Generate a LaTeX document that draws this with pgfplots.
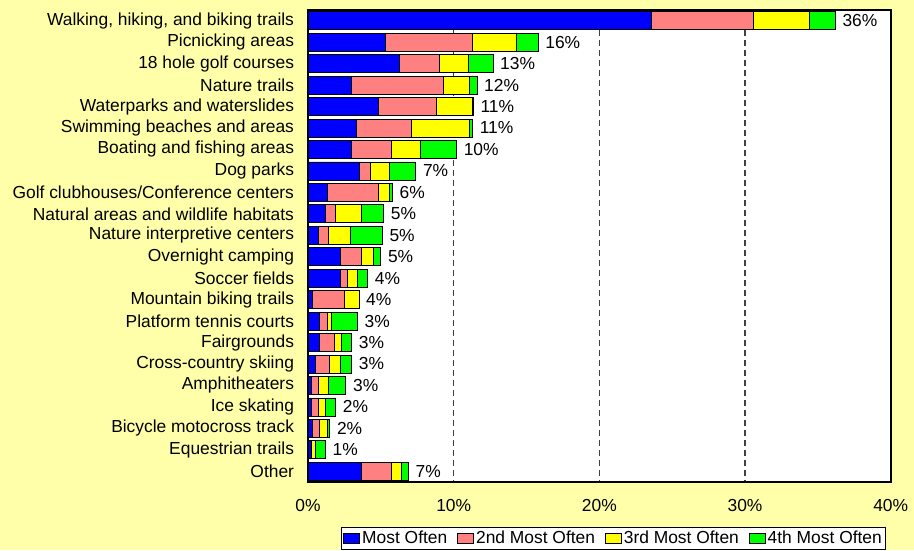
\documentclass[border=0pt]{standalone}
\usepackage{fontspec}
\setmainfont{Liberation Sans}
\usepackage{pgfplots}
\pgfplotsset{compat=1.18}
\usepackage{pgfplotstable}

\definecolor{bgyellow}{RGB}{255,255,170}
\definecolor{sblue}{RGB}{0,0,255}
\definecolor{sred}{RGB}{255,128,128}
\definecolor{syellow}{RGB}{255,255,0}
\definecolor{sgreen}{RGB}{0,255,0}

\pgfplotstableread{
idx a b c d z lab
0 23.6 7.0 3.8 1.8 0.001 36
1 5.3 6.0 3.0 1.5 0.001 16
2 6.3 2.7 2.0 1.7 0.001 13
3 3.0 6.3 1.8 0.5 0.001 12
4 4.8 4.0 2.5 0.05 0.001 11
5 3.3 3.8 4.0 0.2 0.001 11
6 3.0 2.7 2.0 2.5 0.001 10
7 3.5 0.8 1.3 1.8 0.001 7
8 1.3 3.5 0.8 0.2 0.001 6
9 1.2 0.7 1.8 1.5 0.001 5
10 0.7 0.7 1.5 2.2 0.001 5
11 2.2 1.5 0.8 0.5 0.001 5
12 2.2 0.5 0.7 0.7 0.001 4
13 0.3 2.2 1.0 0.0 0.001 4
14 0.8 0.5 0.3 1.8 0.001 3
15 0.8 1.0 0.5 0.7 0.001 3
16 0.5 1.0 0.7 0.8 0.001 3
17 0.2 0.5 0.7 1.2 0.001 3
18 0.2 0.5 0.5 0.7 0.001 2
19 0.3 0.5 0.5 0.2 0.001 2
20 0.2 0.0 0.3 0.7 0.001 1
21 3.7 2.0 0.7 0.5 0.001 7
}\data

\begin{document}
\fontsize{17.4}{20.8}\selectfont
\begin{tikzpicture}
\path[use as bounding box] (0,0) rectangle (914pt,550pt);
\fill[bgyellow] (0,0) rectangle (914pt,550pt);
\begin{axis}[
  at={(308pt,68pt)}, anchor=south west,
  scale only axis, width=582.7pt, height=472pt,
  xbar stacked, bar width=18pt,
  xmin=0, xmax=40, ymin=-0.5, ymax=21.5, y dir=reverse,
  xtick={0,10,20,30,40},
  xticklabel={\pgfmathprintnumber{\tick}\%},
  /pgf/number format/assume math mode=true,
  xticklabel style={yshift=-11pt},
  ytick={0,...,21},
  yticklabels={{Walking, hiking, and biking trails},{Picnicking areas},{18 hole golf courses},{Nature trails},{Waterparks and waterslides},{Swimming beaches and areas},{Boating and fishing areas},{Dog parks},{Golf clubhouses/Conference centers},{Natural areas and wildlife habitats},{Nature interpretive centers},{Overnight camping},{Soccer fields},{Mountain biking trails},{Platform tennis courts},{Fairgrounds},{Cross-country skiing},{Amphitheaters},{Ice skating},{Bicycle motocross track},{Equestrian trails\hspace{4pt}},{Other}},
  yticklabel style={xshift=-8pt},
  major tick length=0pt,
  xmajorgrids, 
  major grid style={gray!50!black, line width=1.3pt, dash pattern=on 6pt off 4pt},
  axis line style={black, line width=2pt},
  axis background/.style={fill=white},
  legend style={at={(0.5245,-0.0953)}, anchor=north, legend columns=4, draw=black, line width=0.8pt, fill=white, inner sep=1.5pt, /tikz/every even column/.append style={column sep=8pt}},
  legend image code/.code={\fill[#1, draw=black, line width=0.8pt] (0pt,-5pt) rectangle (16pt,5pt);},
  legend cell align=left,
]
\addplot[fill=sblue, draw=black, line width=0.8pt] table[y=idx, x=a] {\data};
\addlegendentry{Most Often}
\addplot[fill=sred, draw=black, line width=0.8pt] table[y=idx, x=b] {\data};
\addlegendentry{2nd Most Often}
\addplot[fill=syellow, draw=black, line width=0.8pt] table[y=idx, x=c] {\data};
\addlegendentry{3rd Most Often}
\addplot[fill=sgreen, draw=black, line width=0.8pt] table[y=idx, x=d] {\data};
\addlegendentry{4th Most Often}
\addplot[draw=none, fill=none, forget plot, point meta=explicit symbolic,
  nodes near coords={\pgfplotspointmeta\%}, nodes near coords style={anchor=west, inner sep=0pt, xshift=7pt, black}]
  table[y=idx, x=z, meta=lab] {\data};
\end{axis}
\end{tikzpicture}
\end{document}
